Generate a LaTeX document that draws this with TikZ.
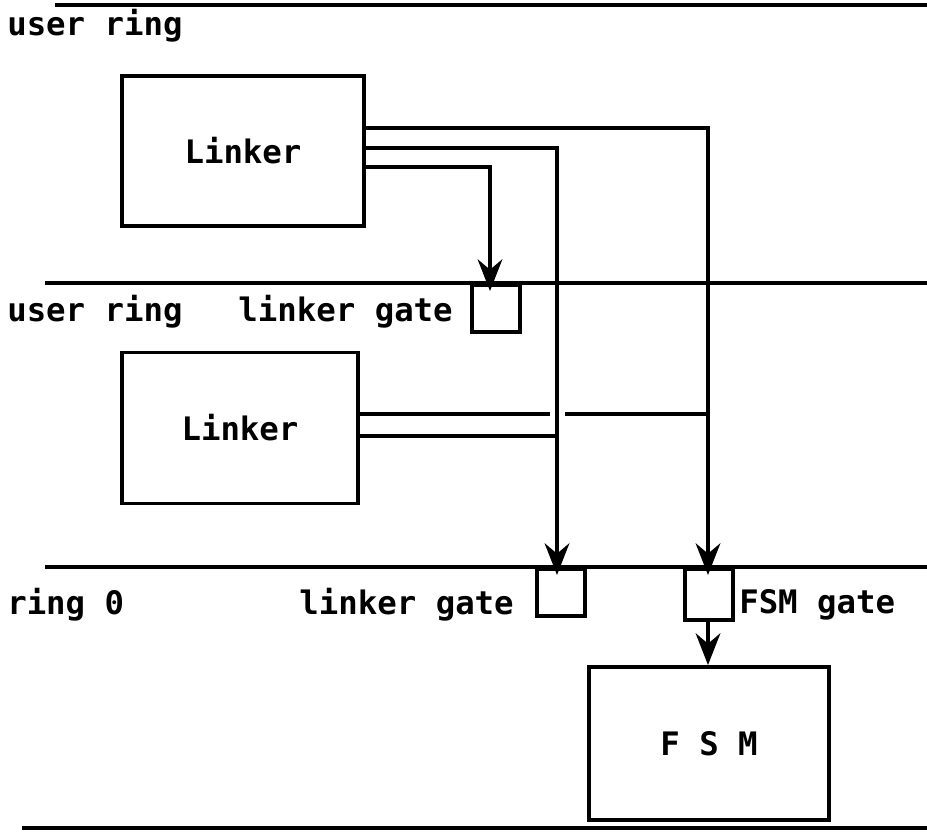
\documentclass[tikz,border=0pt]{standalone}
\usepackage{fontspec}
\setmonofont{DejaVu Sans Mono}
\usetikzlibrary{arrows.meta,positioning}

\begin{document}
\begin{tikzpicture}[x=0.01cm, y=-0.01cm, line width=1.3pt,
    txt/.style = {font=\ttfamily\bfseries\fontsize{9.2}{11}\selectfont, inner sep=0pt},
    box/.style = {draw, line width=1.1pt, inner sep=0pt},
    gatebox/.style = {draw, line width=1.1pt, minimum width=0.48cm, inner sep=0pt},
    arr/.style = {-{Stealth[length=9pt,width=7pt]}, line width=1.1pt}]
            \useasboundingbox (0,0) rectangle (927,838);
            % rings
            \path[draw](55,5)to(927,5);
            \path[draw](45,283)to(927,283);
            \path[draw](45,567)to(927,567);
            \path[draw](22,828)to(927,828);
            \node[txt, anchor=west](ur1) at (5,26) {user ring};
            \node[txt, anchor=west](ur2) at (5,312) {user ring};
            \node[txt, anchor=west](r0) at (5,605) {ring 0};
            % user ring
            \node[box, minimum width=2.42cm, minimum height=1.50cm](lk1) at (243,151) {};
            \node[txt] at (lk1) {Linker};
            % user ring, linker gate
            \node[gatebox, minimum height=0.47cm, anchor=north west](lg1) at (470,283) {};
            \node[txt, anchor=east](lg1t) at (455,312) {linker gate};
            \node[box, minimum width=2.35cm, minimum height=1.51cm](lk2) at (240,428) {};
            \node[txt] at (lk2) {Linker};
            % ring 0
            \node[gatebox, minimum height=0.47cm, anchor=north west](lg2) at (535,567) {};
            \node[txt, anchor=east](lg2t) at (516,605) {linker gate};
            \node[gatebox, minimum height=0.51cm, anchor=north west](fg) at (683,567) {};
            \node[txt, anchor=west](fgt) at (737,605) {FSM gate};
            \node[box, minimum width=2.40cm, minimum height=1.53cm, anchor=north west](fsm) at (587,665) {};
            \node[txt] at (fsm) {F S M};
            % links
            \coordinate(a1)at(lk1.east|-0,128);
            \coordinate(a2)at(lk1.east|-0,148);
            \coordinate(a3)at(lk1.east|-0,167);
            \coordinate(b1)at(lk2.east|-0,414);
            \coordinate(b2)at(lk2.east|-0,436);
            \coordinate(g1)at(490,291);
            \coordinate(g2)at(557,575);
            \coordinate(g3)at(708,575);
            \draw[arr](a1)-|(g3);
            \draw[arr](a2)-|(g2);
            \draw[arr](a3)-|(g1);
            \draw[line width=1.1pt](b1)--(550,414);
            \draw[line width=1.1pt](565,414)--(g3|-0,414);
            \draw[line width=1.1pt](b2)--(g2|-0,436);
            \draw[arr](fg.south-|g3)--(fsm.north-|g3);
        \end{tikzpicture}
\end{document}
